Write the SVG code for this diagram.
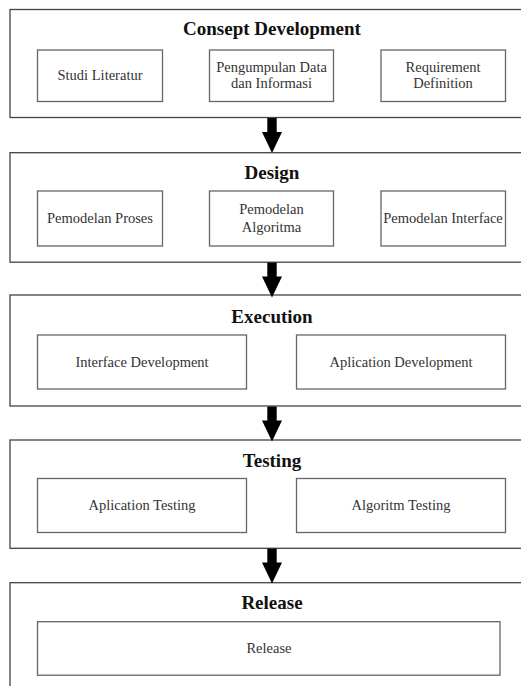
<svg xmlns="http://www.w3.org/2000/svg" width="521" height="686" viewBox="0 0 521 686">
<style>
.outer{fill:#fff;stroke:#444;stroke-width:1.3}
.inner{fill:#fff;stroke:#666;stroke-width:1.3}
.title{font-family:"Liberation Serif","Times New Roman",serif;font-weight:bold;font-size:19px;fill:#111;text-anchor:middle}
.lbl{font-family:"Liberation Serif","Times New Roman",serif;font-size:14.5px;fill:#333;text-anchor:middle}
.arr{fill:#000}
</style>
<defs>
<path id="arrow" class="arr" d="M-4.7,0 H4.7 V14 H10 L0,35 L-10,14 H-4.7 Z"/>
</defs>
<rect width="521" height="686" fill="#fff"/>
<g id="stage-consept">
<rect class="outer" x="10" y="9.5" width="520" height="108"/>
<text class="title" x="272" y="35">Consept Development</text>
<g id="studi-literatur"><rect class="inner" x="37.5" y="50" width="125" height="51.5"/><text class="lbl" x="100" y="80">Studi Literatur</text></g>
<g id="pengumpulan-data"><rect class="inner" x="209.5" y="50" width="124" height="51.5"/><text class="lbl" x="271.5" y="71.5">Pengumpulan Data</text><text class="lbl" x="271.5" y="88">dan Informasi</text></g>
<g id="requirement-definition"><rect class="inner" x="381" y="50" width="124.5" height="51.5"/><text class="lbl" x="443" y="71.5">Requirement</text><text class="lbl" x="443" y="88">Definition</text></g>
</g>
<g id="stage-design">
<rect class="outer" x="10" y="152.7" width="520" height="109.5"/>
<text class="title" x="272" y="179">Design</text>
<g id="pemodelan-proses"><rect class="inner" x="37.5" y="191" width="125" height="55"/><text class="lbl" x="100" y="222.5">Pemodelan Proses</text></g>
<g id="pemodelan-algoritma"><rect class="inner" x="209.5" y="191" width="124" height="55"/><text class="lbl" x="271.5" y="214">Pemodelan</text><text class="lbl" x="271.5" y="232">Algoritma</text></g>
<g id="pemodelan-interface"><rect class="inner" x="381" y="191" width="124.5" height="55"/><text class="lbl" x="443" y="222.5">Pemodelan Interface</text></g>
</g>
<g id="stage-execution">
<rect class="outer" x="10" y="295" width="520" height="111"/>
<text class="title" x="272" y="322.5">Execution</text>
<g id="interface-development"><rect class="inner" x="37.5" y="335" width="209" height="54"/><text class="lbl" x="142" y="366.5">Interface Development</text></g>
<g id="aplication-development"><rect class="inner" x="296.5" y="335" width="209" height="54"/><text class="lbl" x="401" y="366.5">Aplication Development</text></g>
</g>
<g id="stage-testing">
<rect class="outer" x="10" y="440" width="520" height="108.3"/>
<text class="title" x="272" y="466.5">Testing</text>
<g id="aplication-testing"><rect class="inner" x="37.5" y="478.5" width="209" height="54"/><text class="lbl" x="142" y="510">Aplication Testing</text></g>
<g id="algoritm-testing"><rect class="inner" x="296.5" y="478.5" width="209" height="54"/><text class="lbl" x="401" y="510">Algoritm Testing</text></g>
</g>
<g id="stage-release">
<rect class="outer" x="10" y="582.7" width="520" height="120"/>
<text class="title" x="272" y="609">Release</text>
<g id="release"><rect class="inner" x="37.5" y="621.7" width="462.5" height="53.5"/><text class="lbl" x="269" y="652.5">Release</text></g>
</g>
<g id="connectors">
<use href="#arrow" x="272" y="118"/>
<use href="#arrow" x="272" y="262.5"/>
<use href="#arrow" x="272" y="406.5"/>
<use href="#arrow" x="272" y="548.5"/>
</g>
</svg>
